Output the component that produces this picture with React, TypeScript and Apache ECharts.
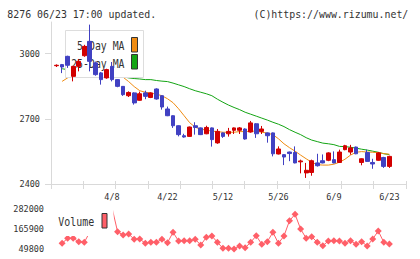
import { useEffect, useRef } from 'react';
import * as echarts from 'echarts';

// Trading days shown on the chart (one candle each)
const dates = [
  '3/25', '3/26', '3/27', '3/28', '3/31', '4/1', '4/2', '4/3', '4/4', '4/7',
  '4/8', '4/9', '4/10', '4/11', '4/14', '4/15', '4/16', '4/17', '4/18', '4/21',
  '4/22', '4/23', '4/24', '4/25', '4/28', '4/30', '5/2', '5/7', '5/8', '5/9',
  '5/12', '5/13', '5/14', '5/15', '5/16', '5/19', '5/20', '5/21', '5/22', '5/23',
  '5/26', '5/27', '5/28', '5/29', '5/30', '6/2', '6/3', '6/4', '6/5', '6/6',
  '6/9', '6/10', '6/11', '6/12', '6/13', '6/16', '6/17', '6/18', '6/19', '6/20',
  '6/23',
];

const opens = [
  2944, 2949, 2987, 2895, 2941, 2990, 3056, 2957, 2911, 2888,
  2941, 2880, 2849, 2806, 2819, 2785, 2819, 2798, 2837, 2806,
  2745, 2714, 2668, 2622, 2619, 2668, 2658, 2631, 2658, 2589,
  2635, 2631, 2647, 2647, 2653, 2639, 2677, 2642, 2635, 2635,
  2538, 2535, 2547, 2545, 2502, 2451, 2453, 2497, 2507, 2509,
  2512, 2499, 2558, 2547, 2570, 2499, 2545, 2499, 2509, 2522,
  2481,
];
const closes = [
  2946, 2938, 2946, 2941, 2964, 3033, 2964, 2903, 2880, 2926,
  2880, 2849, 2811, 2821, 2773, 2815, 2803, 2819, 2791, 2754,
  2714, 2668, 2627, 2616, 2662, 2660, 2627, 2660, 2604, 2642,
  2619, 2642, 2658, 2658, 2607, 2681, 2631, 2653, 2622, 2539,
  2561, 2524, 2540, 2497, 2506, 2463, 2507, 2484, 2497, 2543,
  2497, 2547, 2576, 2566, 2539, 2516, 2504, 2492, 2543, 2481,
  2527,
];
const lows = [
  2938, 2910, 2934, 2872, 2918, 2985, 2918, 2898, 2857, 2884,
  2872, 2845, 2805, 2800, 2765, 2783, 2790, 2795, 2788, 2742,
  2712, 2658, 2619, 2613, 2617, 2627, 2625, 2629, 2572, 2585,
  2612, 2618, 2630, 2630, 2604, 2636, 2612, 2630, 2590, 2527,
  2536, 2487, 2505, 2495, 2449, 2428, 2438, 2480, 2495, 2505,
  2495, 2497, 2555, 2535, 2537, 2486, 2502, 2470, 2507, 2474,
  2474,
];
const highs = [
  2950, 2952, 2990, 2943, 2975, 3040, 3133, 2963, 2915, 2930,
  2961, 2882, 2850, 2826, 2822, 2825, 2829, 2822, 2840, 2808,
  2756, 2716, 2670, 2631, 2664, 2684, 2660, 2668, 2660, 2653,
  2637, 2658, 2660, 2662, 2656, 2690, 2680, 2667, 2637, 2637,
  2573, 2537, 2549, 2573, 2512, 2497, 2512, 2539, 2536, 2546,
  2550, 2558, 2580, 2580, 2572, 2518, 2558, 2516, 2547, 2525,
  2530,
];

// Moving averages and volume start on the second trading day (3/26)
const ma5 = [
  2872, 2888, 2908, 2926, 2944, 2958, 2963, 2953, 2940, 2921,
  2905, 2891, 2871, 2848, 2829, 2822, 2818, 2813, 2806, 2792,
  2774, 2746, 2714, 2682, 2661, 2652, 2648, 2643, 2641, 2638,
  2638, 2638, 2641, 2641, 2643, 2643, 2638, 2634, 2627, 2608,
  2585, 2567, 2551, 2533, 2516, 2500, 2489, 2487, 2487, 2491,
  2500, 2514, 2533, 2546, 2549, 2547, 2546, 2544, 2540, 2537,
];
const ma25 = [
  2930, 2926, 2921, 2917, 2912, 2907, 2903, 2901, 2898, 2896,
  2895, 2893, 2888, 2885, 2883, 2880, 2880, 2876, 2873, 2871,
  2864, 2856, 2848, 2838, 2829, 2822, 2815, 2806, 2790, 2776,
  2763, 2752, 2742, 2730, 2721, 2712, 2703, 2694, 2684, 2675,
  2664, 2650, 2638, 2627, 2613, 2602, 2595, 2588, 2585, 2581,
  2573, 2572, 2569, 2565, 2560, 2556, 2551, 2546, 2539, 2535,
];
const volumes = [
  82900, 111900, 111900, 92200, 88700, 148500, 220000, 290000, 260000, 290000,
  150200, 131100, 136900, 106100, 107900, 82900, 88700, 88700, 106100, 86400,
  146700, 96200, 98000, 98000, 106100, 73000, 117700, 125300, 88700, 53900,
  53900, 50000, 67200, 57300, 88700, 127000, 77100, 92200, 146700, 82900,
  125300, 214100, 251200, 165900, 111900, 121200, 88700, 69000, 96200, 98000,
  96200, 82900, 98000, 77100, 92200, 67200, 107900, 154300, 88700, 78800,
];

const priceTicks = [2400, 2700, 3000];
const volumeTicks = [49800, 165900, 282000];
const labelledDates = ['4/8', '4/22', '5/12', '5/26', '6/9', '6/23'];

const titleText = '8276 06/23 17:00 updated.';
const creditText = '(C)https://www.rizumu.net/';
const ma5Label = '5-Day MA';
const ma25Label = '25-Day MA';
const volumeLabel = 'Volume';

const MONO = "'DejaVu Sans Mono', monospace";
const TEXT = '#333333';
const AXIS = '#d9d9d9';
const UP = '#d20000';
const DOWN = '#4141c2';
const ORANGE = '#f08c12';
const GREEN = '#14a514';
const VOL = '#ff5f68';

export default function App() {
  const ref = useRef<HTMLDivElement>(null);

  useEffect(() => {
    if (!ref.current) return;
    const chart = echarts.init(ref.current, null, { renderer: 'svg' });

    // one empty slot before the first day and three after the last
    const cats = ['', ...dates, '', '', ''];
    const candleData = dates.map((_, i) => [i + 1, opens[i], closes[i], lows[i], highs[i]]);
    const fromSecondDay = (vals: number[]) => vals.map((v, i) => [i + 2, v]);

    const labelStyle = { fontFamily: MONO, fontSize: 8.5, color: TEXT };
    const plain = (v: number) => String(v);

    chart.setOption({
      animation: false,
      backgroundColor: '#ffffff',
      grid: [
        { left: 51, top: 22, width: 355, height: 162 },
        { left: 51, top: 209, width: 355, height: 40 },
      ],
      xAxis: [
        {
          type: 'category',
          gridIndex: 0,
          data: cats,
          boundaryGap: false,
          position: 'bottom',
          axisLine: { show: false },
          axisTick: { show: false },
          splitLine: { show: false },
          axisLabel: {
            ...labelStyle,
            margin: 8,
            interval: (_idx: number, val: string) => labelledDates.includes(val),
          },
        },
        {
          type: 'value',
          gridIndex: 0,
          min: 0,
          max: 11,
          interval: 1,
          position: 'bottom',
          axisLine: { show: true, lineStyle: { color: AXIS, width: 1 } },
          axisTick: { show: true, length: 5, lineStyle: { color: AXIS } },
          axisLabel: { show: false },
          splitLine: { show: false },
        },
        {
          type: 'value',
          gridIndex: 0,
          min: 0,
          max: 11,
          interval: 1,
          position: 'bottom',
          axisLine: { show: false },
          axisTick: { show: true, inside: true, length: 3, lineStyle: { color: AXIS } },
          axisLabel: { show: false },
          splitLine: { show: false },
        },
        {
          type: 'category',
          gridIndex: 1,
          data: cats,
          boundaryGap: false,
          show: false,
        },
      ],
      yAxis: [
        {
          type: 'value',
          gridIndex: 0,
          min: 2400,
          max: 3145,
          interval: 300,
          axisLine: { show: true, lineStyle: { color: AXIS, width: 1 } },
          axisTick: { show: true, length: 6, customValues: priceTicks, lineStyle: { color: AXIS } },
          axisLabel: {
            ...labelStyle,
            margin: 11,
            customValues: priceTicks,
            formatter: (v: number) => (priceTicks.includes(v) ? plain(v) : ''),
          },
          splitLine: { show: false },
        },
        {
          type: 'value',
          gridIndex: 0,
          min: 2400,
          max: 3145,
          interval: 300,
          axisLine: { show: false },
          axisTick: { show: true, inside: true, length: 3, customValues: priceTicks, lineStyle: { color: AXIS } },
          axisLabel: { show: false },
          splitLine: { show: false },
        },
        {
          type: 'value',
          gridIndex: 1,
          min: volumeTicks[0],
          max: volumeTicks[2],
          interval: volumeTicks[1] - volumeTicks[0],
          axisLine: { show: false },
          axisTick: { show: false },
          axisLabel: { ...labelStyle, margin: 7, formatter: plain },
          splitLine: { show: false },
        },
      ],
      series: [
        {
          name: ma25Label,
          type: 'line',
          xAxisIndex: 0,
          yAxisIndex: 0,
          data: fromSecondDay(ma25),
          symbol: 'none',
          lineStyle: { color: GREEN, width: 1 },
          itemStyle: { color: GREEN },
          z: 2,
        },
        {
          name: ma5Label,
          type: 'line',
          xAxisIndex: 0,
          yAxisIndex: 0,
          data: fromSecondDay(ma5),
          symbol: 'none',
          lineStyle: { color: ORANGE, width: 1 },
          itemStyle: { color: ORANGE },
          z: 2,
        },
        {
          name: 'price',
          type: 'candlestick',
          xAxisIndex: 0,
          yAxisIndex: 0,
          dimensions: ['day', 'open', 'close', 'lowest', 'highest'],
          encode: { x: 'day', y: ['open', 'close', 'lowest', 'highest'] },
          data: candleData,
          barWidth: 4.2,
          itemStyle: {
            color: UP,
            color0: DOWN,
            borderColor: UP,
            borderColor0: DOWN,
            borderWidth: 1,
          },
          z: 10,
        },
        {
          name: volumeLabel,
          type: 'line',
          xAxisIndex: 3,
          yAxisIndex: 2,
          data: fromSecondDay(volumes),
          symbol: 'diamond',
          symbolSize: 7,
          showSymbol: true,
          showAllSymbol: true,
          lineStyle: { color: VOL, width: 1 },
          itemStyle: { color: VOL },
          z: 2,
        },
      ],
      graphic: {
        elements: [
          {
            type: 'text',
            x: 7.3,
            y: 13.5,
            scaleX: 0.9,
            z: 20,
            style: { text: titleText, fontFamily: MONO, fontSize: 11, fill: TEXT, align: 'left', verticalAlign: 'middle' },
          },
          {
            type: 'text',
            x: 408.3,
            y: 13.5,
            scaleX: 0.9,
            z: 20,
            style: { text: creditText, fontFamily: MONO, fontSize: 11, fill: TEXT, align: 'right', verticalAlign: 'middle' },
          },
          // price legend: sits above the moving averages, below the candles
          {
            type: 'rect',
            z: 5,
            shape: { x: 65.5, y: 30.5, width: 78, height: 47 },
            style: { fill: '#ffffff', stroke: '#dddddd', lineWidth: 1 },
          },
          {
            type: 'text',
            x: 124.5,
            y: 46.5,
            scaleX: 0.82,
            z: 6,
            style: { text: ma5Label, fontFamily: MONO, fontSize: 12, fill: TEXT, align: 'right', verticalAlign: 'middle' },
          },
          {
            type: 'text',
            x: 124.5,
            y: 64,
            scaleX: 0.82,
            z: 6,
            style: { text: ma25Label, fontFamily: MONO, fontSize: 12, fill: TEXT, align: 'right', verticalAlign: 'middle' },
          },
          {
            type: 'rect',
            z: 6,
            shape: { x: 131.5, y: 37.5, width: 6, height: 14.5 },
            style: { fill: ORANGE, stroke: '#333333', lineWidth: 1 },
          },
          {
            type: 'rect',
            z: 6,
            shape: { x: 131.5, y: 54.5, width: 6, height: 14.5 },
            style: { fill: GREEN, stroke: '#333333', lineWidth: 1 },
          },
          // volume legend, covering the busy early-April stretch
          {
            type: 'rect',
            z: 5,
            shape: { x: 56, y: 203, width: 57.5, height: 33 },
            style: { fill: '#ffffff' },
          },
          {
            type: 'text',
            x: 58.3,
            y: 222,
            scaleX: 0.83,
            z: 6,
            style: { text: volumeLabel, fontFamily: MONO, fontSize: 12, fill: TEXT, align: 'left', verticalAlign: 'middle' },
          },
          {
            type: 'rect',
            z: 6,
            shape: { x: 102, y: 213.5, width: 5, height: 14.5 },
            style: { fill: VOL, stroke: '#333333', lineWidth: 1 },
          },
        ],
      },
    });

    return () => {
      chart.dispose();
    };
  }, []);

  return (
    <div
      ref={ref}
      style={{ position: 'fixed', left: 0, top: 0, width: 420, height: 259, background: '#ffffff' }}
    />
  );
}
